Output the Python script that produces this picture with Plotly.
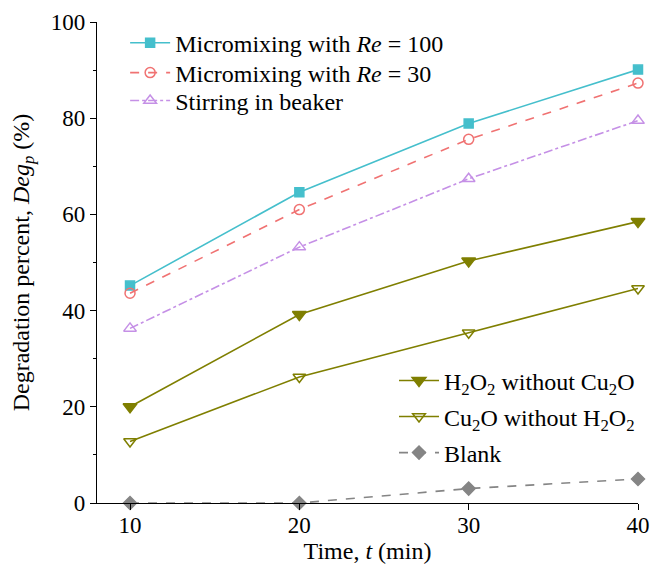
import plotly.graph_objects as go

time = [10, 20, 30, 40]
re100 = [45.2, 64.6, 78.9, 90.1]
re30 = [43.6, 61.0, 75.6, 87.3]
stirring = [36.3, 53.2, 67.4, 79.5]
h2o2_only = [20.0, 39.2, 50.3, 58.5]
cu2o_only = [12.8, 26.2, 35.4, 44.6]
blank = [0.0, 0.0, 3.0, 5.0]

names = [
    "Micromixing with <i>Re</i> = 100",
    "Micromixing with <i>Re</i> = 30",
    "Stirring in beaker",
    "H<sub>2</sub>O<sub>2</sub> without Cu<sub>2</sub>O",
    "Cu<sub>2</sub>O without H<sub>2</sub>O<sub>2</sub>",
    "Blank",
]

FONT = "Liberation Serif"

series = [
    (re100, names[0], "#45bfcc", "solid", "square", 9),
    (re30, names[1], "#f07272", "dash", "circle-open", 10),
    (stirring, names[2], "#c590e6", "dashdot", "triangle-up-open", 11),
    (h2o2_only, names[3], "#7f7f00", "solid", "triangle-down", 12),
    (cu2o_only, names[4], "#7f7f00", "solid", "triangle-down-open", 11),
    (blank, names[5], "#858585", "dash", "diamond", 10),
]

# legend row placement (paper fractions of the plot area)
legend_x = [0.052, 0.052, 0.052, 0.549, 0.549, 0.549]
legend_y = [0.956, 0.894, 0.836, 0.254, 0.179, 0.104]

fig = go.Figure()
legends = {}
for i, (ys, nm, col, dash, sym, sz) in enumerate(series):
    key = f"legend{i + 2}"
    fig.add_trace(go.Scatter(
        x=time, y=ys, name=nm, mode="lines+markers",
        line=dict(color=col, width=1.6, dash=dash),
        marker=dict(symbol=sym, size=sz, color=col, line=dict(color=col, width=1.5)),
        cliponaxis=False, legend=key, showlegend=True,
    ))
    legends[key] = dict(
        x=legend_x[i], y=legend_y[i], xanchor="left", yanchor="middle",
        bgcolor="rgba(0,0,0,0)", font=dict(size=24, family=FONT, color="black"),
        itemwidth=40, visible=True,
    )

fig.update_layout(
    width=652, height=576,
    margin=dict(l=97, r=12, t=22, b=73),
    paper_bgcolor="white", plot_bgcolor="white",
    font=dict(family=FONT, size=23, color="black"),
    showlegend=True,
    **legends,
)
fig.update_xaxes(
    range=[8.05, 40], showline=True, linecolor="black", linewidth=1.2,
    ticks="outside", ticklen=6, tickcolor="black", tickvals=[10, 20, 30, 40],
    showgrid=False, zeroline=False, mirror=False, automargin=False,
    ticklabelstandoff=-5,
    title=dict(text="Time, <i>t</i> (min)", font=dict(size=24, family=FONT, color="black"), standoff=0),
    tickfont=dict(size=23, family=FONT, color="black"),
)
fig.update_yaxes(
    range=[0, 100], showline=True, linecolor="black", linewidth=1.2,
    ticks="outside", ticklen=6, tickcolor="black", tickvals=[0, 20, 40, 60, 80, 100],
    minor=dict(ticks="outside", ticklen=3, tickcolor="black", tickvals=[10, 30, 50, 70, 90], showgrid=False),
    showgrid=False, zeroline=False, automargin=False,
    title=dict(text="Degradation percent, <i>Deg</i><sub><i>p</i></sub> (%)", font=dict(size=24, family=FONT, color="black"), standoff=14),
    tickfont=dict(size=23, family=FONT, color="black"),
)

fig.write_html("out.html")
